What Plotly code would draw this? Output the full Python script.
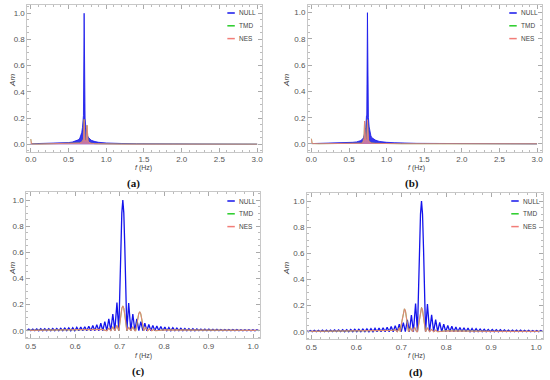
import plotly.graph_objects as go
from plotly.subplots import make_subplots

# ---------------- data ----------------
# Panels (a)/(b): full band 0-3 Hz, dense spectra shown by their envelopes
NULL_A_F = [0.0, 0.1, 0.2, 0.3, 0.4, 0.45, 0.5, 0.55, 0.6, 0.63, 0.65, 0.665, 0.675, 0.685, 0.694, 0.698,
            0.707, 0.716, 0.72, 0.73, 0.74, 0.75, 0.76, 0.78, 0.8, 0.85, 0.9, 1.0, 1.1, 1.2, 1.4, 1.7, 2.0, 2.5, 3.0]
NULL_A_A = [0.004, 0.005, 0.006, 0.007, 0.009, 0.011, 0.013, 0.017, 0.025, 0.034, 0.047, 0.068, 0.09, 0.128, 0.215, 0.22,
            1.0, 0.212, 0.2, 0.128, 0.09, 0.068, 0.055, 0.04, 0.031, 0.021, 0.015, 0.01, 0.007, 0.006, 0.004, 0.003, 0.002, 0.0015, 0.001]
NES_A_F = [0.0, 0.004, 0.01, 0.1, 0.3, 0.5, 0.6, 0.65, 0.68, 0.69, 0.694, 0.698, 0.707, 0.716, 0.72, 0.73, 0.736,
           0.745, 0.754, 0.76, 0.77, 0.8, 0.85, 0.9, 1.0, 1.2, 1.5, 2.0, 3.0]
NES_A_A = [0.04, 0.02, 0.003, 0.002, 0.003, 0.004, 0.006, 0.01, 0.02, 0.03, 0.04, 0.04, 0.19, 0.03, 0.025, 0.03, 0.03,
           0.145, 0.03, 0.025, 0.015, 0.008, 0.005, 0.004, 0.003, 0.002, 0.002, 0.001, 0.001]

NULL_B_F = [0.0, 0.1, 0.2, 0.3, 0.4, 0.45, 0.5, 0.55, 0.6, 0.65, 0.68, 0.69, 0.703, 0.713, 0.723, 0.732, 0.736,
            0.745, 0.754, 0.758, 0.768, 0.778, 0.79, 0.8, 0.82, 0.85, 0.9, 0.95, 1.0, 1.1, 1.2, 1.4, 1.7, 2.0, 2.5, 3.0]
NULL_B_A = [0.003, 0.004, 0.005, 0.006, 0.007, 0.009, 0.01, 0.013, 0.016, 0.025, 0.037, 0.046, 0.07, 0.09, 0.128, 0.215, 0.22,
            1.0, 0.212, 0.2, 0.13, 0.092, 0.065, 0.05, 0.04, 0.03, 0.02, 0.016, 0.013, 0.01, 0.008, 0.005, 0.004, 0.003, 0.002, 0.001]
NES_B_F = [0.0, 0.004, 0.01, 0.1, 0.3, 0.5, 0.6, 0.66, 0.68, 0.691, 0.698, 0.707, 0.716, 0.72, 0.73, 0.736,
           0.745, 0.754, 0.76, 0.77, 0.8, 0.85, 0.9, 1.0, 1.2, 1.5, 2.0, 3.0]
NES_B_A = [0.04, 0.02, 0.003, 0.002, 0.003, 0.003, 0.004, 0.006, 0.01, 0.03, 0.04, 0.175, 0.035, 0.03, 0.035, 0.04,
           0.185, 0.03, 0.03, 0.018, 0.008, 0.005, 0.004, 0.003, 0.002, 0.002, 0.001, 0.001]

# Panel (c): zoom 0.5-1.0 Hz, NULL peak at 0.707 Hz
NULL_C_F = [0.491, 0.4955, 0.500, 0.5045, 0.509, 0.5135, 0.518, 0.5225, 0.527, 0.5315, 0.536, 0.5405, 0.545, 0.5495,
            0.554, 0.5585, 0.563, 0.5675, 0.572, 0.5765, 0.581, 0.5855, 0.590, 0.5945, 0.599, 0.6035, 0.608, 0.6125,
            0.617, 0.6215, 0.626, 0.6305, 0.635, 0.6395, 0.644, 0.6485, 0.653, 0.6575, 0.662, 0.6665, 0.671, 0.6755,
            0.680, 0.6845, 0.689, 0.6938, 0.698, 0.70025, 0.7025, 0.70475, 0.707, 0.70925, 0.7115, 0.71375, 0.716,
            0.7202, 0.725, 0.7295, 0.734, 0.7385, 0.743, 0.7475, 0.752, 0.7565, 0.761, 0.7655, 0.770, 0.7745, 0.779,
            0.7835, 0.788, 0.7925, 0.797, 0.8015, 0.806, 0.8105, 0.815, 0.8195, 0.824, 0.8285, 0.833, 0.8375, 0.842,
            0.8465, 0.851, 0.8555, 0.860, 0.8645, 0.869, 0.8735, 0.878, 0.8825, 0.887, 0.8915, 0.896, 0.9005, 0.905,
            0.9095, 0.914, 0.9185, 0.923, 0.9275, 0.932, 0.9365, 0.941, 0.9455, 0.950, 0.9545, 0.959, 0.9635, 0.968,
            0.9725, 0.977, 0.9815, 0.986, 0.9905, 0.995, 0.9995, 1.004, 1.0085, 1.013]
NULL_C_A = [0, 0.013, 0, 0.013, 0, 0.014, 0, 0.015, 0, 0.015, 0, 0.016, 0, 0.017,
            0, 0.018, 0, 0.019, 0, 0.020, 0, 0.022, 0, 0.024, 0, 0.026, 0, 0.028,
            0, 0.031, 0, 0.035, 0, 0.040, 0, 0.047, 0, 0.057, 0, 0.070, 0, 0.090,
            0, 0.128, 0, 0.215, 0, 0.30, 0.637, 0.90, 1.0, 0.90, 0.637, 0.30, 0,
            0.212, 0, 0.128, 0, 0.090, 0, 0.070, 0, 0.057, 0, 0.048, 0, 0.041, 0,
            0.036, 0, 0.032, 0, 0.028, 0, 0.025, 0, 0.023, 0, 0.021, 0, 0.019, 0,
            0.017, 0, 0.016, 0, 0.015, 0, 0.014, 0, 0.013, 0, 0.012, 0, 0.012, 0,
            0.011, 0, 0.011, 0, 0.010, 0, 0.010, 0, 0.009, 0, 0.009, 0, 0.009, 0,
            0.008, 0, 0.008, 0, 0.008, 0, 0.007, 0, 0.007, 0]
NES_C_F = [0.49, 0.55, 0.60, 0.64, 0.66, 0.671, 0.6755, 0.680, 0.6845, 0.689, 0.6935, 0.698, 0.70025, 0.7025,
           0.70475, 0.707, 0.70925, 0.7115, 0.71375, 0.716, 0.7205, 0.725, 0.7295, 0.734, 0.736, 0.73825, 0.7405,
           0.74275, 0.745, 0.74725, 0.7495, 0.75175, 0.754, 0.7585, 0.763, 0.7675, 0.772, 0.7765, 0.781, 0.80,
           0.85, 0.9, 1.015]
NES_C_A = [0.003, 0.004, 0.005, 0.007, 0.01, 0, 0.02, 0, 0.03, 0, 0.04, 0, 0.06, 0.12,
           0.17, 0.19, 0.17, 0.12, 0.06, 0, 0.025, 0, 0.03, 0, 0, 0.045, 0.09,
           0.13, 0.145, 0.13, 0.09, 0.045, 0, 0.025, 0, 0.015, 0, 0.01, 0, 0.006,
           0.004, 0.003, 0.002]

# Panel (d): zoom 0.5-1.0 Hz, NULL peak at 0.745 Hz
NULL_D_F = [0.484, 0.4885, 0.493, 0.4975, 0.502, 0.5065, 0.511, 0.5155, 0.520, 0.5245, 0.529, 0.5335, 0.538, 0.5425,
            0.547, 0.5515, 0.556, 0.5605, 0.565, 0.5695, 0.574, 0.5785, 0.583, 0.5875, 0.592, 0.5965, 0.601, 0.6055,
            0.610, 0.6145, 0.619, 0.6235, 0.628, 0.6325, 0.637, 0.6415, 0.646, 0.6505, 0.655, 0.6595, 0.664, 0.6685,
            0.673, 0.6775, 0.682, 0.6865, 0.691, 0.6955, 0.700, 0.7045, 0.709, 0.7135, 0.718, 0.7225, 0.727, 0.7318,
            0.736, 0.73825, 0.7405, 0.74275, 0.745, 0.74725, 0.7495, 0.75175, 0.754,
            0.7582, 0.763, 0.7675, 0.772, 0.7765, 0.781, 0.7855, 0.790, 0.7945, 0.799, 0.8035, 0.808, 0.8125, 0.817,
            0.8215, 0.826, 0.8305, 0.835, 0.8395, 0.844, 0.8485, 0.853, 0.8575, 0.862, 0.8665, 0.871, 0.8755, 0.880,
            0.8845, 0.889, 0.8935, 0.898, 0.9025, 0.907, 0.9115, 0.916, 0.9205, 0.925, 0.9295, 0.934, 0.9385, 0.943,
            0.9475, 0.952, 0.9565, 0.961, 0.9655, 0.970, 0.9745, 0.979, 0.9835, 0.988, 0.9925, 0.997, 1.0015, 1.006,
            1.0105, 1.015]
NULL_D_A = [0, 0.010, 0, 0.010, 0, 0.011, 0, 0.011, 0, 0.012, 0, 0.012, 0, 0.013,
            0, 0.014, 0, 0.014, 0, 0.015, 0, 0.016, 0, 0.017, 0, 0.018, 0, 0.019,
            0, 0.020, 0, 0.022, 0, 0.024, 0, 0.026, 0, 0.028, 0, 0.031, 0, 0.035,
            0, 0.040, 0, 0.047, 0, 0.057, 0, 0.070, 0, 0.090, 0, 0.128, 0, 0.215,
            0, 0.30, 0.637, 0.90, 1.0, 0.90, 0.637, 0.30, 0,
            0.212, 0, 0.130, 0, 0.092, 0, 0.072, 0, 0.058, 0, 0.049, 0, 0.042, 0,
            0.037, 0, 0.033, 0, 0.030, 0, 0.027, 0, 0.025, 0, 0.023, 0, 0.021, 0,
            0.019, 0, 0.018, 0, 0.017, 0, 0.016, 0, 0.015, 0, 0.014, 0, 0.013, 0,
            0.013, 0, 0.012, 0, 0.012, 0, 0.011, 0, 0.011, 0, 0.010, 0, 0.010, 0,
            0.010, 0]
NES_D_F = [0.49, 0.6, 0.66, 0.68, 0.6865, 0.691, 0.6955, 0.698, 0.70025, 0.7025, 0.70475, 0.707, 0.70925,
           0.7115, 0.71375, 0.716, 0.7205, 0.725, 0.7295, 0.734, 0.736, 0.73825, 0.7405, 0.74275, 0.745,
           0.74725, 0.7495, 0.75175, 0.754, 0.7585, 0.763, 0.7675, 0.772, 0.7765, 0.781, 0.80, 0.85, 0.9, 1.015]
NES_D_A = [0.002, 0.004, 0.006, 0.01, 0.015, 0, 0.03, 0, 0.06, 0.11, 0.16, 0.175, 0.16,
           0.11, 0.06, 0, 0.03, 0, 0.035, 0, 0, 0.055, 0.11, 0.165, 0.185,
           0.165, 0.11, 0.055, 0, 0.03, 0, 0.018, 0, 0.012, 0, 0.007, 0.004, 0.003, 0.002]

SERIES = ["NULL", "TMD", "NES"]
PANEL_LABELS = ["(a)", "(b)", "(c)", "(d)"]
Y_TICKS = [0.0, 0.2, 0.4, 0.6, 0.8, 1.0]
X_TICKS_FULL = [0.0, 0.5, 1.0, 1.5, 2.0, 2.5, 3.0]
X_TICKS_ZOOM = [0.5, 0.6, 0.7, 0.8, 0.9, 1.0]

BLUE = "rgb(20,20,235)"
GREEN = "rgb(40,205,40)"
SALMON = "rgb(242,125,120)"

fig = make_subplots(rows=2, cols=2)

panels = [
    (1, 1, NULL_A_F, NULL_A_A, NES_A_F, NES_A_A, True),
    (1, 2, NULL_B_F, NULL_B_A, NES_B_F, NES_B_A, True),
    (2, 1, NULL_C_F, NULL_C_A, NES_C_F, NES_C_A, False),
    (2, 2, NULL_D_F, NULL_D_A, NES_D_F, NES_D_A, False),
]
for r, c, nf, na, ef, ea, full in panels:
    if full:
        fig.add_trace(go.Scatter(x=nf, y=na, mode="lines", line=dict(color=BLUE, width=0.8),
                                 fill="tozeroy", fillcolor="rgba(20,20,235,0.85)", showlegend=False), row=r, col=c)
        fig.add_trace(go.Scatter(x=ef, y=ea, mode="lines", line=dict(color=GREEN, width=0.6),
                                 showlegend=False), row=r, col=c)
        fig.add_trace(go.Scatter(x=ef, y=ea, mode="lines", line=dict(color=SALMON, width=0.8),
                                 fill="tozeroy", fillcolor="rgba(245,140,140,0.75)", showlegend=False), row=r, col=c)
    else:
        fig.add_trace(go.Scatter(x=nf, y=na, mode="lines", line=dict(color=BLUE, width=1.3),
                                 showlegend=False), row=r, col=c)
        fig.add_trace(go.Scatter(x=ef, y=ea, mode="lines", line=dict(color=GREEN, width=0.8),
                                 showlegend=False), row=r, col=c)
        fig.add_trace(go.Scatter(x=ef, y=ea, mode="lines", line=dict(color=SALMON, width=1.2),
                                 opacity=0.85, showlegend=False), row=r, col=c)

# axes geometry (paper fractions)
XDOM = {1: [0.0465, 0.4756], 2: [0.5605, 0.9882], 3: [0.0445, 0.4722], 4: [0.5585, 0.9905]}
YDOM = {1: [0.6003, 0.9858], 2: [0.601, 0.9874], 3: [0.1097, 0.4942], 4: [0.1071, 0.4916]}
XRNG = {1: [-0.045, 3.06], 2: [-0.045, 3.06], 3: [0.49, 1.015], 4: [0.49, 1.015]}

tickfont = dict(family="Liberation Sans, Arial, sans-serif", size=8, color="#555555")
for i in range(1, 5):
    xs = "xaxis" if i == 1 else f"xaxis{i}"
    ys = "yaxis" if i == 1 else f"yaxis{i}"
    full = i <= 2
    fig.layout[xs].update(
        domain=XDOM[i], range=XRNG[i], tickvals=X_TICKS_FULL if full else X_TICKS_ZOOM,
        tickformat=".1f", ticks="inside", ticklen=4, tickwidth=0.8, tickcolor="#aaaaaa",
        minor=dict(ticks="inside", ticklen=2, tickcolor="#bbbbbb", dtick=0.1 if full else 0.02),
        showline=True, linecolor="#c8c8c8", linewidth=1, mirror="ticks",
        showgrid=False, zeroline=False, tickfont=tickfont)
    fig.layout[ys].update(
        domain=YDOM[i], range=[-0.058, 1.06], tickvals=Y_TICKS, tickformat=".1f",
        ticks="inside", ticklen=4, tickwidth=0.8, tickcolor="#aaaaaa",
        minor=dict(ticks="inside", ticklen=2, tickcolor="#bbbbbb", dtick=0.05),
        showline=True, linecolor="#c8c8c8", linewidth=1, mirror="ticks",
        showgrid=False, zeroline=False, tickfont=tickfont)

W, H = 550, 380
def px(x):
    return x / W
def py(y):
    return 1 - y / H

annotations = []
shapes = []
ytitle_pos = [(10, 80), (286, 80), (10, 268), (286, 268)]
xtitle_pos = [(143, 168), (418, 168), (143, 356), (418, 356)]
label_pos = [(132, 183), (413, 183), (137, 371), (417, 372)]
legend_pos = [(227, 13), (511, 13), (227, 201), (513, 201)]
for k in range(4):
    annotations.append(dict(x=px(ytitle_pos[k][0]), y=py(ytitle_pos[k][1]), xref="paper", yref="paper",
                            xanchor="center", yanchor="middle",
                            text="<i>Am</i>", showarrow=False, textangle=-90,
                            font=dict(family="Liberation Sans, Arial, sans-serif", size=8, color="#444444")))
    annotations.append(dict(x=px(xtitle_pos[k][0]), y=py(xtitle_pos[k][1]), xref="paper", yref="paper",
                            xanchor="center", yanchor="middle",
                            text="<i>f</i> (Hz)", showarrow=False,
                            font=dict(family="Liberation Sans, Arial, sans-serif", size=7, color="#444444")))
    annotations.append(dict(x=px(label_pos[k][0]), y=py(label_pos[k][1]), xref="paper", yref="paper",
                            xanchor="center", yanchor="middle",
                            text=f"<b>{PANEL_LABELS[k]}</b>", showarrow=False,
                            font=dict(family="Liberation Serif, Times New Roman, serif", size=11, color="#111111")))
    lx, ly = legend_pos[k]
    for j, (name, col) in enumerate(zip(SERIES, [BLUE, GREEN, SALMON])):
        yy = ly + 12.8 * j
        shapes.append(dict(type="line", xref="paper", yref="paper", x0=px(lx), x1=px(lx + 7.5),
                           y0=py(yy), y1=py(yy), line=dict(color=col, width=1.5)))
        annotations.append(dict(x=px(lx + 9.5), y=py(yy), xref="paper", yref="paper", text=name,
                                showarrow=False, xanchor="left", yanchor="middle",
                                font=dict(family="Liberation Sans, Arial, sans-serif", size=6.5, color="#444444")))

fig.update_layout(width=W, height=H, margin=dict(l=0, r=0, t=0, b=0),
                  paper_bgcolor="white", plot_bgcolor="white",
                  annotations=annotations, shapes=shapes, showlegend=False)

fig.write_html("out.html", config={"displayModeBar": False},
               post_script="document.body.style.margin='0px';")
